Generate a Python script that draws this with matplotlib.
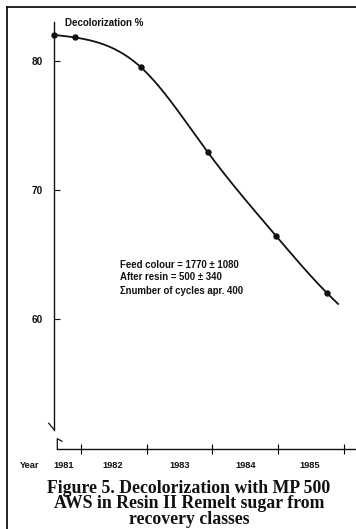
import numpy as np
import matplotlib
matplotlib.use("Agg")
import matplotlib.pyplot as plt
from matplotlib.lines import Line2D

# Decolorization (%) measured over the years of operation
years = [1981.59, 1981.91, 1982.91, 1983.93, 1984.97, 1985.74]
decol = [82.0, 81.8, 79.5, 72.9, 66.4, 62.0]
# the drawn curve runs a little past the last measurement
curve_end = (1985.92, 61.1)

year_ticks = [1982, 1983, 1984, 1985, 1986]
year_label_pos = [1981.73, 1982.49, 1983.5, 1984.5, 1985.48]
year_labels = ["1981", "1982", "1983", "1984", "1985"]
y_ticks = [60, 70, 80]

note_lines = ["Feed colour = 1770 \u00b1 1080",
              "After resin = 500 \u00b1 340",
              "\u03a3number of cycles apr. 400"]
caption = ("Figure 5. Decolorization with MP 500\n"
           "AWS in Resin II Remelt sugar from\n"
           "recovery classes")

SANS = "Liberation Sans"
SERIF = "Liberation Serif"
INK = "#111111"


def natural_spline(px, py, n=40):
    # natural cubic spline through the points
    x = np.asarray(px, float)
    y = np.asarray(py, float)
    k = len(x)
    h = np.diff(x)
    A = np.zeros((k, k))
    b = np.zeros(k)
    A[0, 0] = A[-1, -1] = 1
    for i in range(1, k - 1):
        A[i, i - 1] = h[i - 1]
        A[i, i] = 2 * (h[i - 1] + h[i])
        A[i, i + 1] = h[i]
        b[i] = 6 * ((y[i + 1] - y[i]) / h[i] - (y[i] - y[i - 1]) / h[i - 1])
    M = np.linalg.solve(A, b)
    xs, ys = [], []
    for i in range(k - 1):
        t = np.linspace(x[i], x[i + 1], n, endpoint=False)
        a = x[i + 1] - t
        c = t - x[i]
        s = (M[i] * a ** 3 + M[i + 1] * c ** 3) / (6 * h[i]) \
            + (y[i] / h[i] - M[i] * h[i] / 6) * a \
            + (y[i + 1] / h[i] - M[i + 1] * h[i] / 6) * c
        xs.append(t)
        ys.append(s)
    xs.append([x[-1]])
    ys.append([y[-1]])
    return np.concatenate(xs), np.concatenate(ys)


fig = plt.figure(figsize=(3.56, 5.29), dpi=100)
fig.patch.set_facecolor("white")

# page frame lines (left and top)
fig.add_artist(Line2D([7 / 356, 7 / 356], [0, 1 - 7 / 529], transform=fig.transFigure,
                      color=INK, lw=1.3))
fig.add_artist(Line2D([7 / 356, 1], [1 - 7 / 529, 1 - 7 / 529], transform=fig.transFigure,
                      color=INK, lw=1.3))

ax = fig.add_axes([54 / 356, 80 / 529, 302 / 356, 427 / 529])
x0 = 1981.59
ax.set_xlim(x0, x0 + 302 / 65.75)
ax.set_ylim(49.9, 83.0)
for s in ax.spines.values():
    s.set_visible(False)

# y axis with a break at the bottom
ax.plot([x0, x0], [83.0, 51.4], color=INK, lw=1.0, clip_on=False)
ax.plot([x0, x0 - 0.08], [51.4, 51.9], color=INK, lw=0.9, clip_on=False)
ax.plot([x0 + 0.05, x0 + 0.05, x0 + 0.12], [49.9, 50.7, 50.5], color=INK, lw=0.9, clip_on=False)
# x axis
ax.plot([x0 + 0.05, x0 + 302 / 65.75], [49.9, 49.9], color=INK, lw=1.0, clip_on=False)

ax.set_yticks(y_ticks)
ax.set_yticklabels([str(v) for v in y_ticks])
ax.tick_params(axis="y", direction="in", length=4, width=0.8, pad=8,
               labelsize=7.2, colors=INK)
for lab in ax.get_yticklabels():
    lab.set_fontfamily(SANS)
    lab.set_fontweight("bold")

ax.set_xticks(year_ticks)
ax.set_xticklabels([])
ax.set_xticks(year_label_pos, minor=True)
ax.set_xticklabels(year_labels, minor=True)
ax.tick_params(axis="x", which="major", direction="inout", length=7, width=0.8)
ax.tick_params(axis="x", which="minor", length=0, pad=9, labelsize=6.7, colors=INK)
for lab in ax.get_xticklabels(minor=True):
    lab.set_fontfamily(SANS)
    lab.set_fontweight("bold")

# decolorization curve
cx, cy = natural_spline(years + [curve_end[0]], decol + [curve_end[1]])
ax.plot(cx, cy, color=INK, lw=1.3, clip_on=False, solid_capstyle="butt")
ax.plot(years, decol, "o", color=INK, ms=3.6, clip_on=False)

ax.text(0.037, 0.985, "Decolorization %", transform=ax.transAxes, ha="left", va="bottom",
        fontsize=7.0, fontweight="bold", family=SANS, color=INK)

note_y = [265, 277, 291]
for line, py in zip(note_lines, note_y):
    fig.text(120 / 356, 1 - py / 529, line, ha="left", va="center",
             fontsize=6.9, fontweight="bold", family=SANS, color=INK)

fig.text(30 / 356, 1 - 466 / 529, "Year", ha="center", va="center",
         fontsize=6.7, fontweight="bold", family=SANS, color=INK)

fig.text(189 / 356, 1 - 504 / 529, caption, ha="center", va="center",
         fontsize=12.8, fontweight="bold", family=SERIF, color=INK,
         linespacing=0.86)

fig.savefig("out.png", dpi=100)
